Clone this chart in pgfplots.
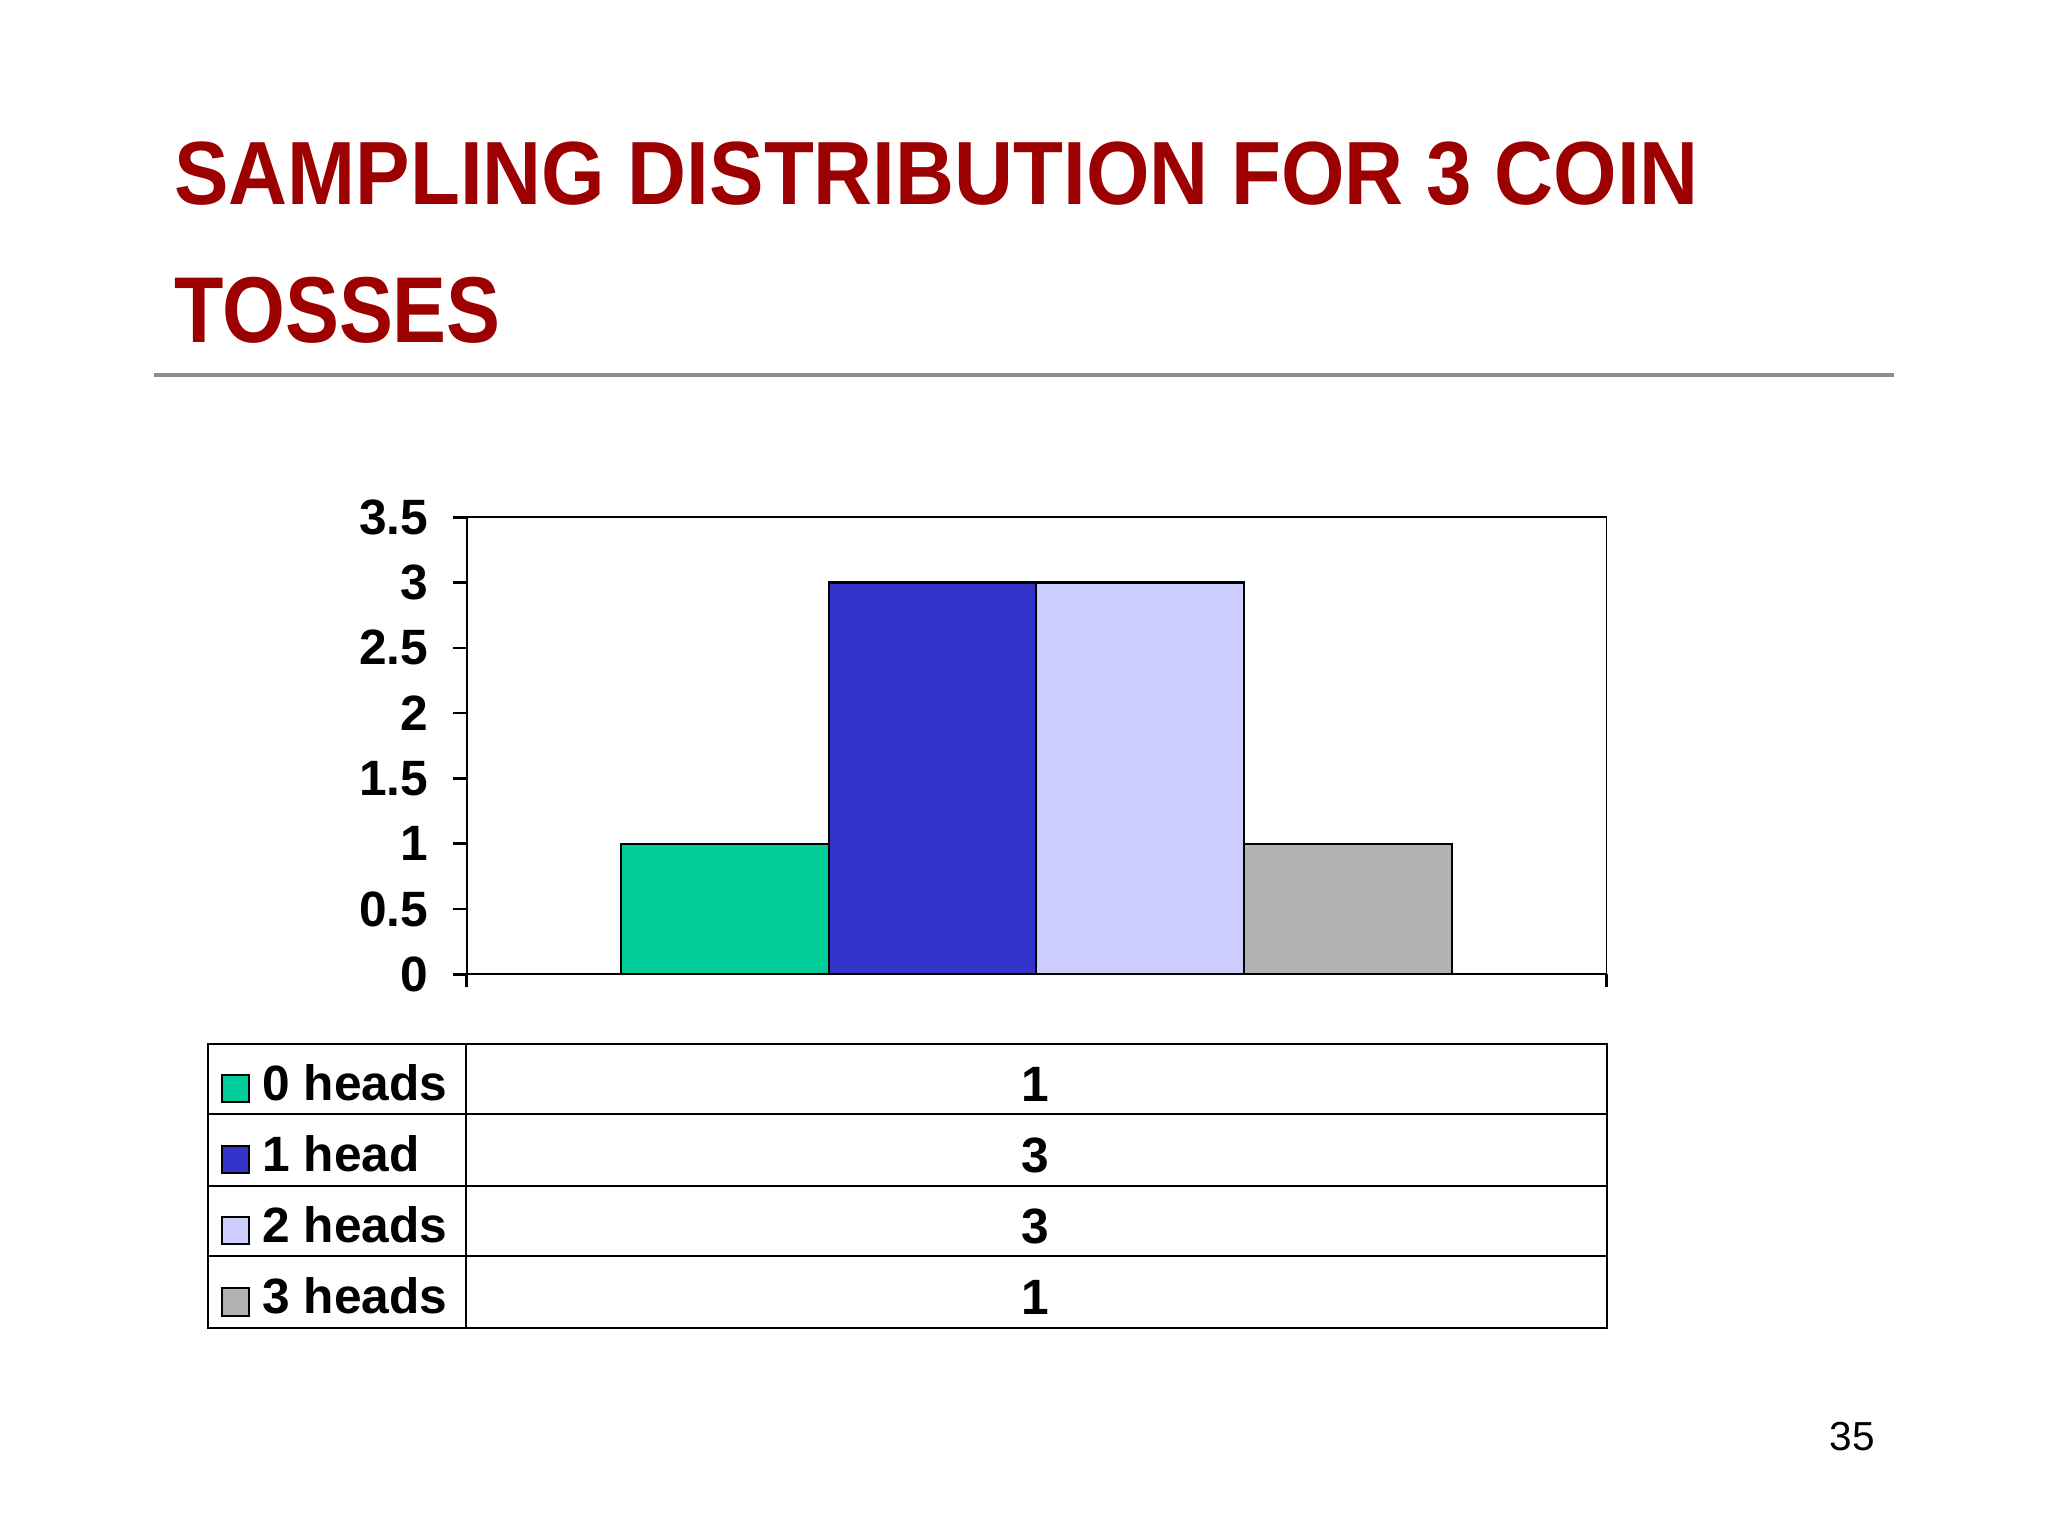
\documentclass[border=0pt]{standalone}
\usepackage{fontspec}
\setmainfont{Liberation Sans}
\usepackage{pgfplots}
\pgfplotsset{compat=1.18}
\definecolor{titlered}{HTML}{9C0000}
\definecolor{zeroh}{HTML}{00CC99}
\definecolor{oneh}{HTML}{3333CC}
\definecolor{twoh}{HTML}{CCCCFF}
\definecolor{threeh}{HTML}{B2B2B2}
\newcommand\bigbold{\bfseries\fontsize{19}{19}\selectfont}

\begin{document}
\begin{tikzpicture}
% page
\fill[white] (0,0) rectangle (784pt,588pt);
% title
\node[anchor=south west, inner sep=0pt, text=titlered] at (66.5pt,509pt)
  {\resizebox{583.5pt}{24pt}{\bfseries SAMPLING DISTRIBUTION FOR 3 COIN}};
\node[anchor=south west, inner sep=0pt, text=titlered] at (66.5pt,456.5pt)
  {\resizebox{125pt}{25pt}{\bfseries TOSSES}};
\draw[line width=1.5pt, black!45] (59pt,444.5pt) -- (725pt,444.5pt);

\begin{axis}[
  at={(178.5pt,215pt)}, anchor=south west,
  scale only axis, width=436.5pt, height=175pt,
  xmin=-0.5, xmax=0.5, ymin=0, ymax=3.5,
  ybar=0pt, bar width=79.5pt,
  ytick={0,0.5,1,1.5,2,2.5,3,3.5},
  xtick={-0.5,0.5}, xticklabels={},
  tick align=outside, major tick length=5pt, tick pos=left,
  axis line style={line width=0.6pt},
  tick style={line width=1pt, black},
  tick label style={font=\bigbold},
  yticklabel style={xshift=-6pt},
  /pgf/number format/assume math mode=true,
  legend cell align=left,
  legend image code/.code={
    \draw[#1, draw=black, line width=0.8pt] (5pt,-6.75pt) rectangle (15.5pt,3.75pt);
    \path[draw=none, fill=none, use as bounding box] (0pt,-11.625pt) rectangle (20.5pt,15.625pt);
  },
  legend style={at={(-0.2257,-0.1514)}, anchor=north west,
    draw=none, fill=none, inner sep=0pt, outer sep=0pt,
    row sep=0pt, column sep=0pt,
    nodes={inner sep=0pt, font=\bigbold}},
]
\addplot[fill=zeroh, draw=black, line width=0.8pt] coordinates {(0,1)};
\addplot[fill=oneh, draw=black, line width=0.8pt] coordinates {(0,3)};
\addplot[fill=twoh, draw=black, line width=0.8pt] coordinates {(0,3)};
\addplot[fill=threeh, draw=black, line width=0.8pt] coordinates {(0,1)};
\legend{0 heads, 1 head, 2 heads, 3 heads}
\draw[line width=1pt] (rel axis cs:0,1) -- (rel axis cs:0,0) -- (rel axis cs:1,0);
\end{axis}

% data table
\draw[line width=0.75pt] (79.5pt,79.5pt) rectangle (615pt,188.5pt);
\foreach \y in {161.5,134,107} \draw[line width=0.75pt] (79.5pt,\y pt) -- (615pt,\y pt);
\draw[line width=0.75pt] (178.5pt,79.5pt) -- (178.5pt,188.5pt);
\node[font=\bigbold] at (396.5pt,173pt) {1};
\node[font=\bigbold] at (396.5pt,145.75pt) {3};
\node[font=\bigbold] at (396.5pt,118.5pt) {3};
\node[font=\bigbold] at (396.5pt,91.25pt) {1};

% slide number
\node[font=\fontsize{15.5}{15.5}\selectfont] at (709pt,38pt) {35};
\end{tikzpicture}
\end{document}
